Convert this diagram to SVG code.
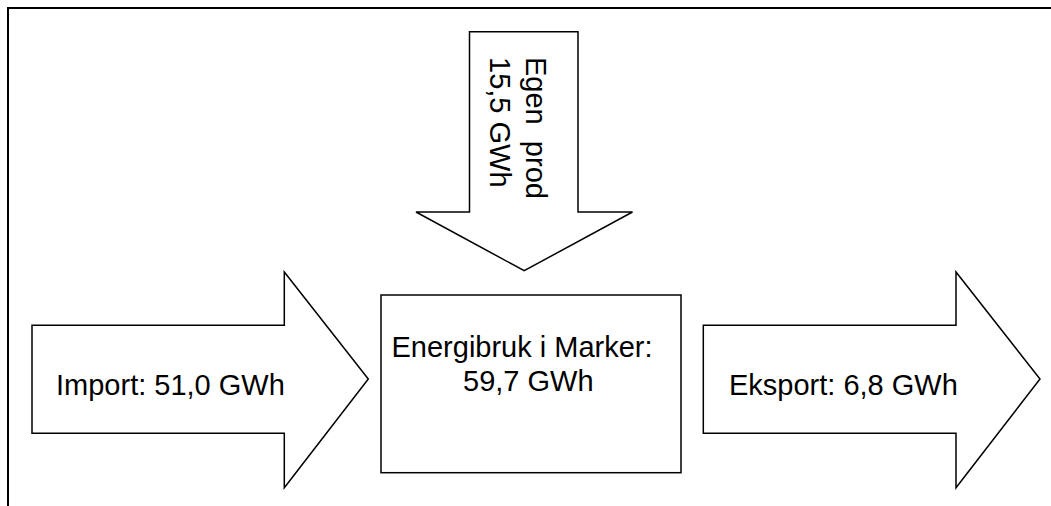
<svg xmlns="http://www.w3.org/2000/svg" width="1051" height="506" viewBox="0 0 1051 506">
<style>
.shape{fill:#fff;stroke:#000;stroke-width:1.5;stroke-linejoin:miter}
.frame{fill:none;stroke:#000;stroke-width:2}
.t{font-family:"Liberation Sans",Arial,sans-serif;font-size:29px;fill:#000;white-space:pre}
</style>
<rect width="1051" height="506" fill="#fff"/>
<g id="frame">
<path class="frame" d="M8,506 V8 H1051"/>
</g>
<g id="connectors">
<g id="import">
<polygon class="shape" points="32,325.3 284.3,325.3 284.3,272 368.3,379 284.3,487.7 284.3,433.3 32,433.3"/>
<text class="t" x="56" y="395">Import: 51,0 GWh</text>
</g>
<g id="egenprod">
<polygon class="shape" points="469.5,31.7 578,31.7 578,212 632.5,212 524.2,270.7 416,212 469.5,212"/>
<text class="t" transform="translate(526,57) rotate(90)" xml:space="preserve">Egen  prod</text>
<text class="t" transform="translate(490,57) rotate(90)">15,5 GWh</text>
</g>
<g id="eksport">
<polygon class="shape" points="703.3,325.3 956,325.3 956,272 1040,379 956,487.7 956,433.3 703.3,433.3"/>
<text class="t" x="729" y="395">Eksport: 6,8 GWh</text>
</g>
</g>
<g id="energibruk">
<rect class="shape" x="381" y="295" width="300" height="177.7"/>
<text class="t" x="391.5" y="357.3">Energibruk i Marker:</text>
<text class="t" x="463" y="390.7">59,7 GWh</text>
</g>
</svg>
